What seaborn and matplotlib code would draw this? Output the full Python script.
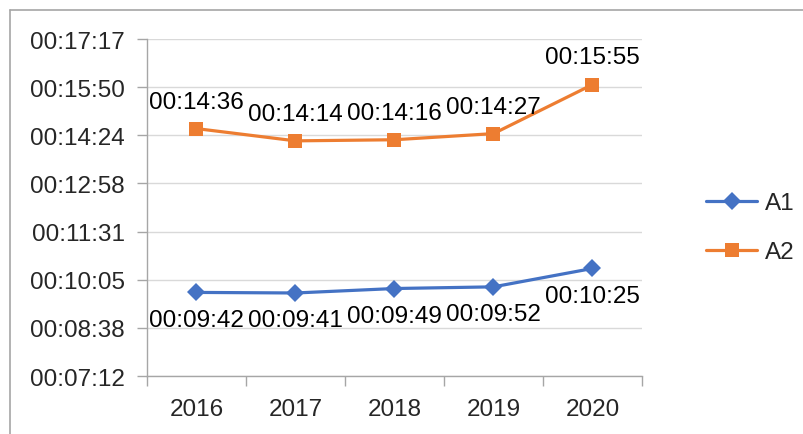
import numpy as np
import pandas as pd
import matplotlib
matplotlib.use("Agg")
import matplotlib.pyplot as plt
import matplotlib.ticker as mticker
from matplotlib.lines import Line2D
import seaborn as sns

# Dados (segundos)
anos = ["2016", "2017", "2018", "2019", "2020"]
a1_rotulos = ["00:09:42", "00:09:41", "00:09:49", "00:09:52", "00:10:25"]
a2_rotulos = ["00:14:36", "00:14:14", "00:14:16", "00:14:27", "00:15:55"]


def para_seg(t):
    h, m, s = t.split(":")
    return int(h) * 3600 + int(m) * 60 + int(s)


def para_hms(v, pos=None):
    v = int(round(v))
    return f"{v // 3600:02d}:{(v % 3600) // 60:02d}:{v % 60:02d}"


a1 = [para_seg(t) for t in a1_rotulos]
a2 = [para_seg(t) for t in a2_rotulos]

df = pd.DataFrame({
    "idx": list(range(len(anos))) * 2,
    "valor": a1 + a2,
    "serie": ["A1"] * len(anos) + ["A2"] * len(anos),
})

sns.set_theme(style="white")
plt.rcParams["font.family"] = ["Liberation Sans", "DejaVu Sans"]

fs = 17.5
cores = {"A1": "#4472C4", "A2": "#ED7D31"}
marcadores = {"A1": "D", "A2": "s"}
tamanhos = {"A1": 9, "A2": 10}

fig = plt.figure(figsize=(8.04, 4.35), dpi=100)
ax = fig.add_axes([147 / 804, 1 - 377 / 435, (642 - 147) / 804, (377 - 40) / 435])

for nome in ["A1", "A2"]:
    sub = df[df["serie"] == nome]
    sns.lineplot(data=sub, x="idx", y="valor", ax=ax, color=cores[nome],
                 marker=marcadores[nome], markersize=tamanhos[nome],
                 markeredgewidth=0, linewidth=2.3, label=nome)

# rotulos dos dados
for i in range(len(anos)):
    ax.annotate(a2_rotulos[i], (i, a2[i]), xytext=(0, 19.5), textcoords="offset points",
                ha="center", va="center", fontsize=fs, color="#000000")
    ax.annotate(a1_rotulos[i], (i, a1[i]), xytext=(0, -19.5), textcoords="offset points",
                ha="center", va="center", fontsize=fs, color="#000000")

# eixos
passo = 86.4
ymin = 432
ax.set_ylim(ymin, ymin + 7 * passo)
ax.set_yticks([ymin + k * passo for k in range(8)])
ax.yaxis.set_major_formatter(mticker.FuncFormatter(para_hms))
ax.set_xlim(-0.5, len(anos) - 0.5)
ax.set_xticks(np.arange(-0.5, len(anos), 1.0))
ax.set_xticklabels([])
ax.set_xticks(range(len(anos)), minor=True)
ax.set_xticklabels(anos, minor=True)
ax.tick_params(axis="x", which="major", length=7, width=1, color="#A6A6A6", direction="out", bottom=True)
ax.tick_params(axis="x", which="minor", length=0, labelsize=fs, pad=16)
ax.tick_params(axis="y", length=7, width=1, color="#A6A6A6", direction="out", left=True, labelsize=fs, pad=9)
ax.grid(axis="y", color="#D9D9D9", linewidth=1)
ax.set_xlabel("")
ax.set_ylabel("")
for lado in ["top", "right"]:
    ax.spines[lado].set_visible(False)
for lado in ["left", "bottom"]:
    ax.spines[lado].set_color("#A6A6A6")
    ax.spines[lado].set_linewidth(1)

ax.legend(loc="center left", bbox_to_anchor=(1.105, 0.44), frameon=False, fontsize=fs,
          handlelength=2.1, labelspacing=1.1, handletextpad=0.3, borderpad=0)

# moldura do grafico
fig.add_artist(Line2D([10 / 804, 10 / 804], [0, 1 - 11 / 435], color="#A6A6A6", linewidth=1.2,
                      transform=fig.transFigure))
fig.add_artist(Line2D([10 / 804, 1], [1 - 11 / 435, 1 - 11 / 435], color="#A6A6A6", linewidth=1.2,
                      transform=fig.transFigure))

fig.savefig("out.png", dpi=100)
